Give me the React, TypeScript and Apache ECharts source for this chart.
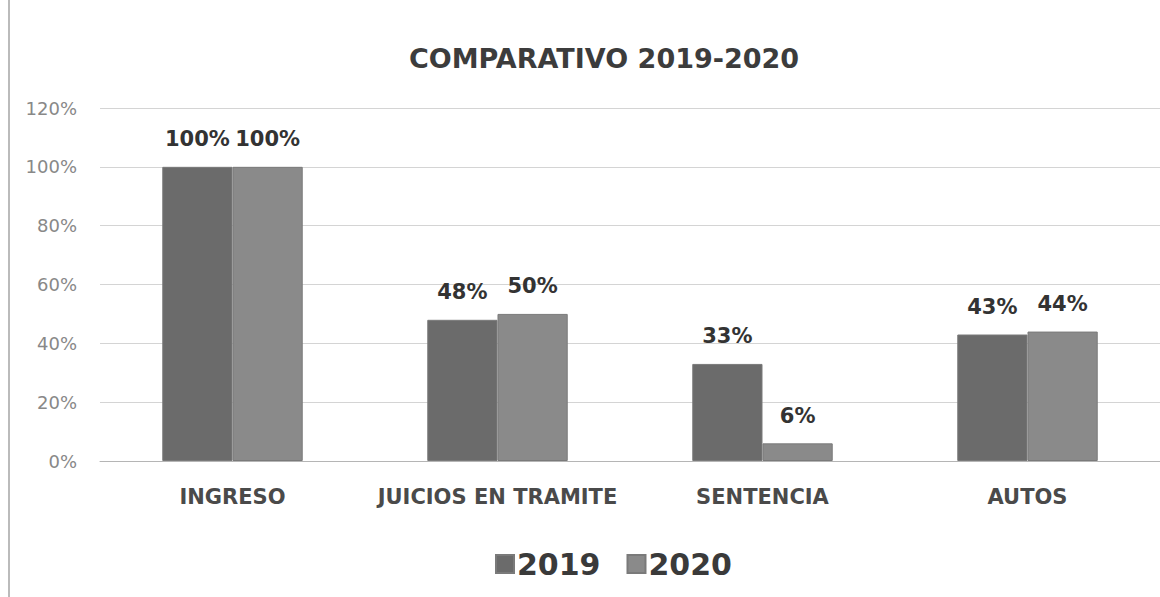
import React, { useEffect, useRef } from "react";
import * as echarts from "echarts";

const categories = ["INGRESO", "JUICIOS EN TRAMITE", "SENTENCIA", "AUTOS"];
const series2019 = [100, 48, 33, 43];
const series2020 = [100, 50, 6, 44];
const seriesNames = ["2019", "2020"];
const titleText = "COMPARATIVO 2019-2020";

export default function App() {
  const ref = useRef<HTMLDivElement>(null);
  useEffect(() => {
    if (!ref.current) return;
    const chart = echarts.init(ref.current, null, { renderer: "svg" });
    const font = "'DejaVu Sans', sans-serif";
    const label = {
      show: true,
      position: "top" as const,
      formatter: (p: any) => p.value + "%",
      fontFamily: font,
      fontWeight: "bold" as const,
      fontSize: 21,
      color: "#333",
      distance: 17,
    };
    chart.setOption({
      animation: false,
      backgroundColor: "#fff",
      title: {
        text: titleText,
        left: 599,
        textAlign: "center",
        top: 40,
        textStyle: { fontFamily: font, fontWeight: "bold", fontSize: 27, color: "#3c3c3c" },
      },
      legend: {
        data: seriesNames,
        left: 490,
        top: 544,
        icon: "rect",
        itemWidth: 18,
        itemHeight: 18,
        itemGap: 26,
        textStyle: { fontFamily: font, fontWeight: "bold", fontSize: 30, color: "#3a3a3a", padding: [0, 0, 0, -2] },
      },
      grid: { left: 100, width: 1068, top: 108, height: 353 },
      xAxis: {
        type: "category",
        data: categories,
        axisTick: { show: false },
        axisLine: { lineStyle: { color: "#b5b5b5" } },
        axisLabel: {
          interval: 0,
          fontFamily: font,
          fontWeight: "bold",
          fontSize: 21,
          color: "#4a4a4a",
          margin: 25,
        },
      },
      yAxis: {
        type: "value",
        min: 0,
        max: 120,
        interval: 20,
        axisLabel: {
          formatter: "{value}%",
          fontFamily: font,
          fontSize: 18,
          color: "#888",
          margin: 23,
        },
        splitLine: { lineStyle: { color: "#d4d4d4" } },
      },
      graphic: [
        { type: "line", shape: { x1: 9, y1: 0, x2: 9, y2: 597 }, style: { stroke: "#bbb", lineWidth: 2 } },
      ],
      series: [
        {
          name: seriesNames[0],
          type: "bar",
          data: series2019,
          barGap: "0%",
          barCategoryGap: "47%",
          itemStyle: { color: "#6b6b6b", borderColor: "#7a7a7a", borderWidth: 1 },
          label,
        },
        {
          name: seriesNames[1],
          type: "bar",
          data: series2020,
          itemStyle: { color: "#8a8a8a", borderColor: "#7a7a7a", borderWidth: 1 },
          label,
        },
      ],
    });
    return () => chart.dispose();
  }, []);
  return (
    <div
      ref={ref}
      style={{ position: "fixed", left: 0, top: 0, width: 1160, height: 597 }}
    />
  );
}
